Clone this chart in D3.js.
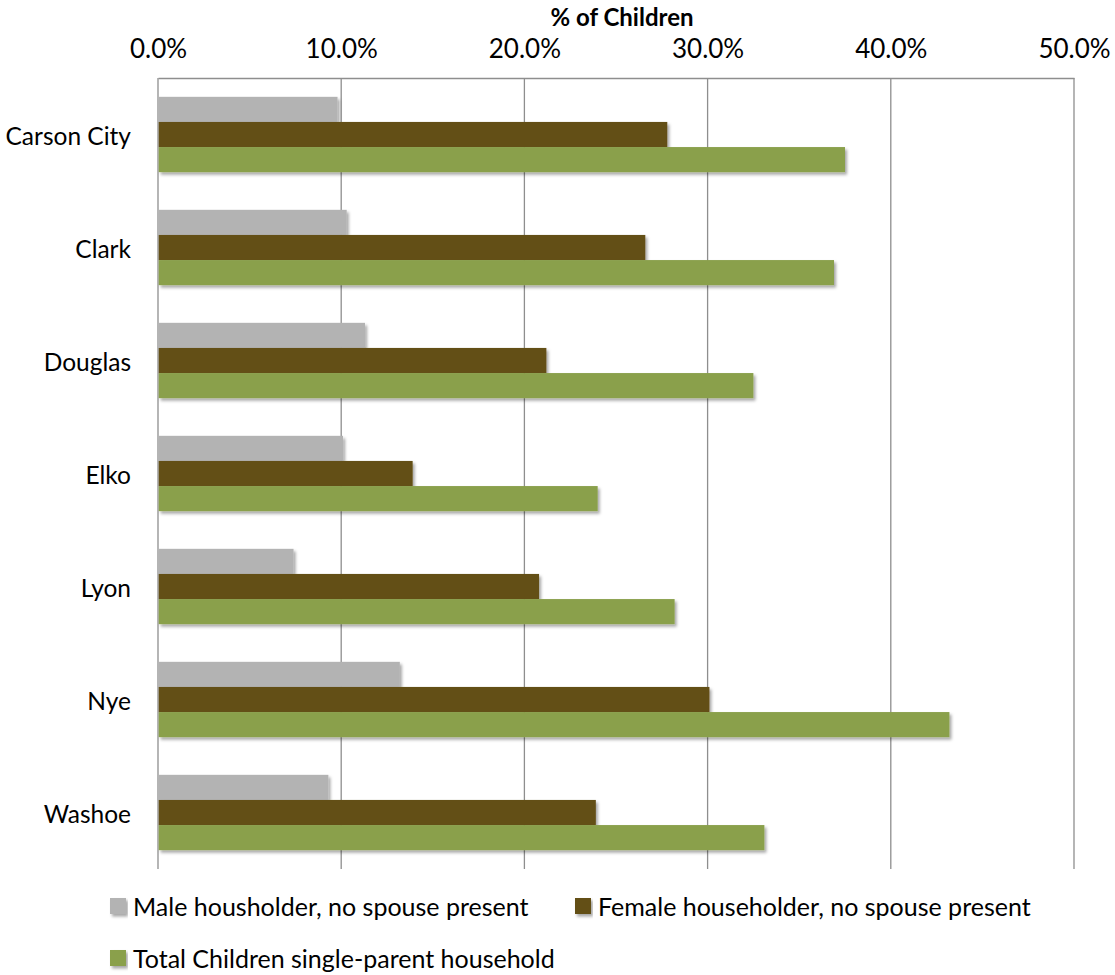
<!DOCTYPE html>
<html><head><meta charset="utf-8">
<script src="https://cdn.jsdelivr.net/npm/d3@7"></script>
<style>html,body{margin:0;padding:0;background:#fff;}svg{display:block;font-family:Lato,"Open Sans",sans-serif;}</style>
</head><body>
<svg id="c" width="1115" height="975"></svg>
<script>
const categories = ["Carson City","Clark","Douglas","Elko","Lyon","Nye","Washoe"];
const seriesNames = ["Male housholder, no spouse present","Female householder, no spouse present","Total Children single-parent household"];
const male   = [9.8, 10.3, 11.3, 10.1, 7.4, 13.2, 9.3];
const female = [27.8, 26.6, 21.2, 13.9, 20.8, 30.1, 23.9];
const total  = [37.5, 36.9, 32.5, 24.0, 28.2, 43.2, 33.1];
const xTicks = [0, 10, 20, 30, 40, 50];
const colors = ["#b3b3b3", "#644f16", "#8aa04b"];
const axisTitle = "% of Children";

const series = [male, female, total];
const svg = d3.select("#c");
const L = 158, R = 1074, T = 78, B = 869;

const defs = svg.append("defs");
const f = defs.append("filter").attr("id","sh").attr("x","-5%").attr("y","-30%").attr("width","115%").attr("height","180%");
f.append("feDropShadow").attr("dx",2).attr("dy",2.5).attr("stdDeviation",1.8).attr("flood-color","#000").attr("flood-opacity",0.35);

const x = d3.scaleLinear().domain([0,50]).range([L,R]);
const y0 = d3.scaleBand().domain(categories).range([T,B]).paddingInner(1.5/4.5).paddingOuter(0.75/4.5);
const y1 = d3.scaleBand().domain([0,1,2]).range([0, y0.bandwidth()]);

// gridlines
svg.append("g").selectAll("line").data(xTicks).join("line")
  .attr("x1", d=>x(d)).attr("x2", d=>x(d)).attr("y1", T).attr("y2", B)
  .attr("stroke", "#8e8e8e").attr("stroke-width", 1.3);

// top axis
const ax = svg.append("g").attr("transform",`translate(0,${T})`)
  .call(d3.axisTop(x).tickValues(xTicks).tickSize(0).tickPadding(20).tickFormat(d=>d3.format(".1f")(d)+"%"));
ax.select(".domain").attr("stroke","#8e8e8e").attr("stroke-width",1.3);
ax.selectAll("text").attr("font-size",26).attr("fill","#000").attr("font-family","Lato");

svg.append("text").attr("x", 622).attr("y", 26).attr("text-anchor","middle")
  .attr("font-size",24).attr("font-weight","bold").attr("fill","#000").text(axisTitle);

// bars
const g = svg.append("g").attr("filter","url(#sh)");
categories.forEach((c,i)=>{
  series.forEach((s,k)=>{
    g.append("rect").attr("x", x(0)+0.7).attr("y", y0(c)+y1(k))
      .attr("width", x(s[i])-x(0)-0.7).attr("height", y1.bandwidth())
      .attr("fill", colors[k]);
  });
});

// category labels
svg.append("g").selectAll("text").data(categories).join("text")
  .attr("x", 131).attr("y", d=>y0(d)+y0.bandwidth()/2+2).attr("dy","0.35em")
  .attr("text-anchor","end").attr("font-size",24.5).attr("fill","#000").text(d=>d);

// legend
const legPos = [[110,898],[575,898],[110,950]];
const lg = svg.append("g");
seriesNames.forEach((n,k)=>{
  const [lx,ly] = legPos[k];
  lg.append("rect").attr("x",lx).attr("y",ly).attr("width",16).attr("height",16).attr("fill",colors[k]).attr("filter","url(#sh)");
  lg.append("text").attr("x",lx+23).attr("y",ly+9).attr("dy","0.36em").attr("font-size",25).attr("fill","#000").text(n);
});
</script>
</body></html>
